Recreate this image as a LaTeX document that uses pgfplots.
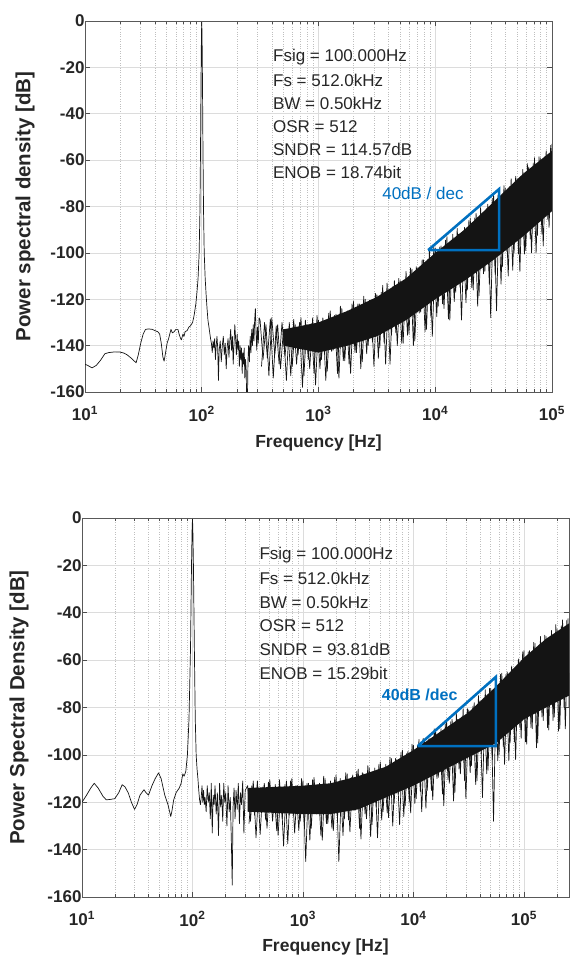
\documentclass[border=0pt]{standalone}
\usepackage{pgfplots}
\pgfplotsset{compat=1.18}
\usepackage{fontspec}
\setmainfont{Liberation Sans}

\definecolor{txt}{RGB}{38,38,38}
\definecolor{mblue}{RGB}{0,112,192}
\definecolor{gridc}{RGB}{220,220,220}

\tikzset{
  trace/.style={black!92, line width=0.7pt, line join=round},
  note/.style={anchor=west, inner sep=0pt, font=\fontsize{17}{20}\selectfont, text=txt},
}

\begin{document}
\begin{tikzpicture}
\useasboundingbox (0pt,0pt) rectangle (570pt,959pt);

% ---------------- top panel ----------------
\begin{axis}[
  scale only axis,
  at={(85pt,567pt)}, anchor=south west,
  width=467pt, height=371pt,
  xmode=log,
  xmin=10, xmax=100000,
  ymin=-160, ymax=0,
  ytick={-160,-140,-120,-100,-80,-60,-40,-20,0},
  yticklabels={-160,-140,-120,-100,-80,-60,-40,-20,0},
  xtick={10,100,1000,10000,100000},
  xticklabels={10\textsuperscript{1},10\textsuperscript{2},10\textsuperscript{3},10\textsuperscript{4},10\textsuperscript{5}},
  minor xtick={20,30,40,50,60,70,80,90,200,300,400,500,600,700,800,900,2000,3000,4000,5000,6000,7000,8000,9000,20000,30000,40000,50000,60000,70000,80000,90000},
  xmajorgrids, ymajorgrids, xminorgrids,
  major grid style={gridc, line width=0.6pt},
  minor grid style={black!25, dotted, line width=0.6pt},
  axis line style={black!65, line width=0.9pt},
  tick style={black!70, line width=0.6pt},
  major tick length=5pt, minor tick length=3pt,
  tick label style={font=\fontsize{17}{20}\selectfont\bfseries, text=txt},
  xticklabel style={yshift=-11pt},
  yticklabel style={xshift=3pt},
  xlabel={Frequency [Hz]},
  ylabel={Power spectral density [dB]},
  xlabel style={font=\fontsize{17.5}{21}\selectfont\bfseries, text=txt, at={(axis description cs:0.5,-0.137)}, anchor=center},
  ylabel style={font=\fontsize{20.5}{24}\selectfont\bfseries, text=txt, at={(axis description cs:-0.1285,0.5)}, anchor=center},
]
% dense core of the noise floor: upper edge left to right, lower edge back
\addplot[draw=none, fill=black!92] table {
501 -133
1000 -130
1778 -125
3162 -119
5623 -111
10000 -100
17783 -90
31623 -78
56234 -66
100000 -56
100000 -82
56234 -93
31623 -103
17783 -112
10000 -120
5623 -129
3162 -136
1778 -140
1000 -143
501 -140
};

\addplot[trace] table {
10 -148
10.6 -148.6
11.5 -149.6
12.5 -148.5
13.5 -146.5
14.8 -143.5
16 -143
18 -142.7
20 -142.8
21.5 -143.2
23 -144
25 -145.5
27.4 -147.4
28.6 -144
30 -139
31.5 -135
33 -133
35 -132.8
37.8 -133
40 -133.6
42 -134
43.6 -135
45 -139
46.5 -145
47.6 -146.7
49 -143
50.5 -139
52 -137
54.5 -133
56 -134.5
58 -134
60 -133
62.5 -133
64 -135
66 -137
67 -137.5
69 -135
70.5 -136
72 -134
75 -133.5
77.6 -132
80 -131.5
83.5 -130
86 -127
89 -122
91 -117
93 -111
95 -100
96.5 -82
97.6 -55
98.6 -25
99.4 -6
100 -0.5
100.6 -6
101.4 -25
102.4 -55
103.6 -82
105 -100
107 -111
109 -118
111 -124
113 -129
116 -133
119 -137
121 -139
123 -143
125 -138
127 -141
129 -137
131 -146
133 -140
135 -136
137 -141
139 -155
141 -142
144 -138
147 -147
150 -140
153 -136
156 -144
159 -139
162 -150
165 -141
168 -137
171 -145
174 -138
177 -133
180 -142
183 -136
186 -148
189 -139
192 -131
195 -137
198 -144
201 -135
204 -142
207 -138
210 -149
213 -140
216 -146
219 -141
222 -152
225 -143
228 -148
231 -141
234 -154
237 -146
240 -150
243 -165
246 -165
249 -146
252 -140
256 -147
260 -136
264 -143
268 -133
272 -140
276 -131
280 -138
284 -129
288 -124
292 -135
296 -142
300 -132
305 -139
310 -128
316 -129
335 -146
355 -131
376 -153
398 -128
422 -144
447 -131
473 -150
501 -133
531 -155
562 -130
596 -149
631 -131
668 -144
708 -128
750 -153
794 -131
841 -150
891 -128
944 -157
1000 -129
1059 -146
1122 -130
1189 -151
1259 -125
1334 -142
1413 -126.5
1496 -154
1585 -124
1679 -146.5
1778 -125
1884 -152
1995 -121
2113 -143
2239 -122
2371 -147
2512 -120
2661 -140
2818 -121
2985 -149
3162 -118
3350 -141
3548 -114
3758 -148
3981 -116
4217 -135.5
4467 -112
4732 -140
5012 -112
5309 -139
5623 -108
5957 -135
6310 -107
6683 -138
7079 -107
7499 -125.5
7943 -103
8414 -133
8913 -99
9441 -136
10000 -98
10593 -123
11220 -97
11885 -124
12589 -93
13335 -129
14125 -92
14962 -117
15849 -92
16788 -129
17783 -89
18836 -116
19953 -85
21135 -116
22387 -83
23714 -118.5
25119 -83
26607 -108
28184 -79
29854 -128
31623 -75
33497 -125
35481 -74
37584 -106
39811 -72
42170 -110
44668 -68
47315 -100
50119 -68
53088 -108
56234 -64
59566 -99
63096 -63
66834 -100
70795 -59
74989 -92.5
79433 -59
84140 -97
89125 -56
94406 -89
100000 -53
};

% second sweep of the noise floor, between the bins of the first
\addplot[trace] table {
325 -149
345 -130
365 -145.5
387 -128.5
410 -154
434 -131.5
460 -148
487 -130
516 -144.5
546 -133
579 -153
613 -128.7
649 -148
688 -130
729 -158
772 -129
818 -146
866 -130.5
917 -152
972 -127
1029 -150
1090 -128
1155 -155
1223 -126
1296 -142.5
1372 -127
1454 -152
1540 -123
1631 -146.5
1728 -126
1830 -148
1939 -122
2054 -143
2175 -122
2304 -150
2441 -118.7
2586 -143.5
2739 -120.5
2901 -138.5
3073 -117.5
3256 -145.5
3449 -117
3653 -139
3870 -113
4099 -148
4342 -114.5
4600 -134.5
4873 -111
5161 -139
5467 -112.5
5791 -135.5
6134 -106.5
6498 -140
6883 -106
7291 -126
7724 -103
8182 -134
8667 -102.75
9181 -127.5
9725 -97.5
10302 -127.5
10913 -97.5
11560 -122
12246 -94.5
12972 -128.5
13741 -94.5
14555 -121
15418 -89.5
16333 -115
17302 -91.5
18330 -121.5
19419 -86
20572 -115
21792 -85
23086 -123
24456 -80.5
25907 -109
27444 -81
29071 -113.5
30796 -76.5
32623 -109.5
34559 -75
36609 -113.5
38781 -71
41082 -99.5
43517 -71.5
46099 -107.5
48834 -67
51731 -100.5
54800 -67.5
58052 -100.5
61495 -61.5
65143 -94
69008 -61.5
73100 -100
77437 -58.5
82031 -92
86898 -58.5
92054 -85.5
97515 -53.5
};

\addplot[mblue, line width=2.6pt, line join=miter] coordinates {
(8700,-98.8) (35200,-72.5) (35200,-98.8) (8700,-98.8)
};
\node[text=mblue, font=\fontsize{17}{20}\selectfont] at (axis cs:7850,-74.2) {40dB / dec};

\node[note] at (axis cs:407,-15.5) {Fsig = 100.000Hz};
\node[note] at (axis cs:407,-25.5) {Fs = 512.0kHz};
\node[note] at (axis cs:407,-35.5) {BW = 0.50kHz};
\node[note] at (axis cs:407,-45.5) {OSR = 512};
\node[note] at (axis cs:407,-55.5) {SNDR = 114.57dB};
\node[note] at (axis cs:407,-65.5) {ENOB = 18.74bit};
\end{axis}

% ---------------- bottom panel ----------------
\begin{axis}[
  scale only axis,
  at={(82pt,62pt)}, anchor=south west,
  width=487pt, height=379pt,
  xmode=log,
  xmin=10, xmax=256000,
  ymin=-160, ymax=0,
  ytick={-160,-140,-120,-100,-80,-60,-40,-20,0},
  yticklabels={-160,-140,-120,-100,-80,-60,-40,-20,0},
  xtick={10,100,1000,10000,100000},
  xticklabels={10\textsuperscript{1},10\textsuperscript{2},10\textsuperscript{3},10\textsuperscript{4},10\textsuperscript{5}},
  minor xtick={20,30,40,50,60,70,80,90,200,300,400,500,600,700,800,900,2000,3000,4000,5000,6000,7000,8000,9000,20000,30000,40000,50000,60000,70000,80000,90000,200000},
  xmajorgrids, ymajorgrids, xminorgrids,
  major grid style={gridc, line width=0.6pt},
  minor grid style={black!25, dotted, line width=0.6pt},
  axis line style={black!65, line width=0.9pt},
  tick style={black!70, line width=0.6pt},
  major tick length=5pt, minor tick length=3pt,
  tick label style={font=\fontsize{17}{20}\selectfont\bfseries, text=txt},
  xticklabel style={yshift=-11pt},
  yticklabel style={xshift=3pt},
  xlabel={Frequency [Hz]},
  ylabel={Power Spectral Density [dB]},
  xlabel style={font=\fontsize{17.5}{21}\selectfont\bfseries, text=txt, at={(axis description cs:0.5,-0.132)}, anchor=center},
  ylabel style={font=\fontsize{20.5}{24}\selectfont\bfseries, text=txt, at={(axis description cs:-0.129,0.5)}, anchor=center},
]
\addplot[draw=none, fill=black!92] table {
316 -114
1000 -113
1778 -112
3162 -109
5623 -105
10000 -98
17783 -90
31623 -82
56234 -71
100000 -59
158489 -51
256000 -44.5
256000 -75
158489 -80
100000 -85
56234 -95
31623 -101
17783 -107
10000 -113
5623 -118
3162 -123
1778 -125
1000 -125
316 -124
};

\addplot[trace] table {
10 -120
11 -117
12 -114
12.9 -112
14 -114
15.5 -117.5
16.6 -119
18 -118.8
19.8 -118.5
21.5 -116
23.1 -112.6
24.5 -113.5
26.2 -116
28 -120
29.9 -123
31.5 -121
33.5 -117
36.4 -114.7
38 -116
40 -117
43 -113
46 -110
49.3 -107.6
52 -110
56 -116.8
60 -121
63.6 -126
65 -124
67.6 -119
71 -116
75.9 -114
79 -112
81.8 -108
84 -109
87 -107
90 -100
93 -85
96 -55
98 -20
99.3 -4
100 -0.5
100.7 -4
102 -20
104 -55
106 -85
108 -100
110 -106
112 -110
114 -115
116 -119
118 -121
120 -118
122 -113
124 -120
126 -115
128 -121
130 -118
133 -124
136 -113
139 -120
142 -116
145 -127
148 -112
151 -133
154 -117
157 -121
160 -113
164 -125
168 -116
172 -134
176 -112
180 -122
184 -117
188 -128
192 -112
196 -120
200 -116
205 -130
210 -113
215 -124
220 -118
225 -137
229 -155
233 -122
238 -114
243 -127
248 -115
254 -123
260 -112
266 -129
272 -116
278 -121
285 -111
292 -133
300 -115
316 -113
335 -128
355 -111
376 -135
398 -114
422 -122.5
447 -112
473 -131
501 -110.5
531 -128
562 -112.5
596 -134
631 -114
668 -138.5
708 -111
750 -125.5
794 -110
841 -133
891 -113
944 -128
1000 -111
1059 -145
1122 -112
1189 -131
1259 -109.5
1334 -125
1413 -112
1496 -136
1585 -110
1679 -129
1778 -111
1884 -132
1995 -108.5
2113 -145
2239 -111
2371 -127
2512 -108
2661 -132.5
2818 -108.5
2985 -123
3162 -106
3350 -135.5
3548 -108
3758 -127
3981 -105.5
4217 -129.5
4467 -105.5
4732 -135
5012 -103
5309 -124
5623 -104
5957 -126.5
6310 -101.5
6683 -120.5
7079 -102
7499 -129.5
7943 -98
8414 -121.5
8913 -98.5
9441 -124.5
10000 -96
10593 -118.5
11220 -93.5
11885 -124
12589 -94
13335 -115
14125 -93
14962 -119
15849 -89.5
16788 -109.5
17783 -89
18836 -121.5
19953 -85.5
21135 -112
22387 -85
23714 -116
25119 -85
26607 -108
28184 -80.5
29854 -118.5
31623 -81
33497 -104.5
35481 -78
37584 -111
39811 -77.5
42170 -118
44668 -72.5
47315 -106.5
50119 -72
53088 -128
56234 -69
59566 -100
63096 -65.5
66834 -104
70795 -65
74989 -95
79433 -64
84140 -102
89125 -59.5
94406 -93
100000 -56
105925 -95.5
112202 -56
118850 -89
125893 -53
133352 -95
141254 -50
149624 -85.5
158489 -50
167880 -89.5
177828 -47.5
188365 -84
199526 -47
211349 -89
223872 -43
237137 -89
251189 -42.5
256000 -80
};

% second sweep of the noise floor, between the bins of the first
\addplot[trace] table {
325 -129
345 -113
365 -125.5
387 -111
410 -133.5
434 -113.5
460 -127.5
487 -111.5
516 -124
546 -114.5
579 -132
613 -110.5
649 -127
688 -112.5
729 -137.5
772 -111
818 -125.5
866 -113
917 -132
972 -110
1029 -130
1090 -112
1155 -136
1223 -110.5
1296 -124
1372 -112.5
1454 -134
1540 -109
1631 -129
1728 -113
1830 -131
1939 -109.5
2054 -126.5
2175 -110
2304 -134
2441 -107.5
2586 -127.5
2739 -109.5
2901 -123.5
3073 -107
3256 -131
3449 -107.5
3653 -125
3870 -104.5
4099 -134.5
4342 -107
4600 -122
4873 -104
5161 -127.5
5467 -106
5791 -124.5
6134 -101
6498 -130
6883 -101.5
7291 -116.5
7724 -99
8182 -126
8667 -99.5
9181 -120
9725 -95.5
10302 -120.5
10913 -96
11560 -115.5
12246 -93
12972 -122.5
13741 -93.5
14555 -115
15418 -89
16333 -110
17302 -91.5
18330 -116.5
19419 -87
20572 -110.5
21792 -86
23086 -119.5
24456 -82.5
25907 -106
27444 -84
29071 -111
30796 -80.5
32623 -107.5
34559 -79.5
36609 -112.5
38781 -75
41082 -99.5
43517 -76
46099 -108
48834 -72
51731 -102
54800 -72.5
58052 -102.5
61495 -66
65143 -96.5
69008 -66
73100 -102.5
77437 -62.5
82031 -94.5
86898 -62
92054 -88.5
97515 -56.5
103239 -94.5
109366 -56.5
115878 -88.5
122744 -52.5
130017 -97
137721 -53.5
145881 -84
154525 -49.5
163682 -88.5
173380 -51
183654 -85.5
194536 -45
206063 -90
218273 -45.5
231206 -80
244906 -43
};

\addplot[mblue, line width=2.6pt, line join=miter] coordinates {
(10940,-96.3) (55700,-67.1) (55700,-96.3) (10940,-96.3)
};
\node[text=mblue, font=\fontsize{16}{19}\selectfont\bfseries] at (axis cs:11400,-74.7) {40dB /dec};

\node[note] at (axis cs:403,-15.6) {Fsig = 100.000Hz};
\node[note] at (axis cs:403,-25.6) {Fs = 512.0kHz};
\node[note] at (axis cs:403,-35.6) {BW = 0.50kHz};
\node[note] at (axis cs:403,-45.6) {OSR = 512};
\node[note] at (axis cs:403,-55.6) {SNDR = 93.81dB};
\node[note] at (axis cs:403,-65.6) {ENOB = 15.29bit};
\end{axis}
\end{tikzpicture}
\end{document}
